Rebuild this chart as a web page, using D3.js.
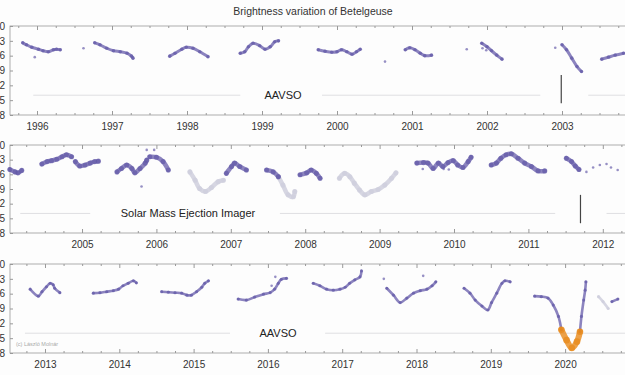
<!DOCTYPE html>
<html>
<head>
<meta charset="utf-8">
<script src="https://cdn.jsdelivr.net/npm/d3@7"></script>
<style>
  body { margin: 0; background: #fdfdfd; }
  svg { display: block; font-family: "Liberation Sans", Arial, sans-serif; }
</style>
</head>
<body>
<svg id="chart" width="625" height="375"></svg>
<script>
// ---- data: [year, magnitude] ----
const magTicks = [0.0, 0.3, 0.6, 0.9, 1.2, 1.5, 1.8];
const years1 = [1996, 1997, 1998, 1999, 2000, 2001, 2002, 2003];
const years2 = [2005, 2006, 2007, 2008, 2009, 2010, 2011, 2012];
const years3 = [2013, 2014, 2015, 2016, 2017, 2018, 2019, 2020];

// AAVSO 1995-2003
const aavso1 = [
  [[1995.81, 0.34], [1995.86, 0.38], [1995.93, 0.43], [1996.02, 0.47], [1996.08, 0.50], [1996.15, 0.52], [1996.22, 0.48], [1996.26, 0.47], [1996.31, 0.48]],
  [[1996.77, 0.34], [1996.84, 0.38], [1996.93, 0.45], [1997.02, 0.50], [1997.11, 0.52], [1997.20, 0.55], [1997.26, 0.61], [1997.28, 0.65]],
  [[1997.77, 0.61], [1997.84, 0.55], [1997.93, 0.47], [1997.99, 0.43], [1998.08, 0.45], [1998.17, 0.52], [1998.28, 0.62]],
  [[1998.71, 0.55], [1998.77, 0.52], [1998.82, 0.42], [1998.88, 0.35], [1998.97, 0.40], [1999.04, 0.47], [1999.11, 0.42], [1999.17, 0.32], [1999.22, 0.30]],
  [[1999.75, 0.48], [1999.84, 0.51], [1999.93, 0.53], [2000.00, 0.52], [2000.06, 0.48], [2000.13, 0.52], [2000.20, 0.57], [2000.26, 0.52], [2000.31, 0.47]],
  [[2000.91, 0.48], [2000.97, 0.44], [2001.04, 0.48], [2001.11, 0.55], [2001.17, 0.60], [2001.26, 0.59]],
  [[2001.93, 0.35], [2002.00, 0.42], [2002.06, 0.50], [2002.13, 0.59], [2002.20, 0.67]],
  [[2003.00, 0.38], [2003.06, 0.48], [2003.13, 0.65], [2003.20, 0.82], [2003.26, 0.92]],
  [[2003.53, 0.67], [2003.62, 0.63], [2003.71, 0.59], [2003.82, 0.55]]
];
const aavso1Dots = [[1995.97, 0.63], [1996.62, 0.45], [2000.64, 0.72], [2001.73, 0.47], [2001.94, 0.45], [2001.99, 0.49], [2002.91, 0.44]];

// SMEI 2004-2012
const smei = [
  [[2004.03, 0.50], [2004.10, 0.55], [2004.14, 0.57], [2004.19, 0.52]],
  [[2004.46, 0.39], [2004.53, 0.34], [2004.59, 0.32], [2004.66, 0.29], [2004.73, 0.24], [2004.79, 0.20], [2004.86, 0.24]],
  [[2004.91, 0.34], [2004.97, 0.43], [2005.04, 0.41], [2005.11, 0.37], [2005.17, 0.34], [2005.22, 0.33]],
  [[2005.47, 0.55], [2005.53, 0.48], [2005.60, 0.41], [2005.67, 0.48], [2005.71, 0.57], [2005.78, 0.48], [2005.85, 0.37], [2005.87, 0.31]],
  [[2005.91, 0.24], [2006.00, 0.25], [2006.09, 0.34], [2006.16, 0.51]],
  [[2006.94, 0.58], [2007.01, 0.44], [2007.05, 0.37], [2007.12, 0.44], [2007.21, 0.51]],
  [[2007.48, 0.51], [2007.57, 0.55], [2007.64, 0.65]],
  [[2007.93, 0.61], [2008.02, 0.57], [2008.08, 0.51], [2008.15, 0.58], [2008.20, 0.68]],
  [[2009.50, 0.37], [2009.59, 0.36], [2009.65, 0.37], [2009.72, 0.48], [2009.79, 0.37], [2009.85, 0.44], [2009.92, 0.36], [2009.99, 0.32], [2010.05, 0.41], [2010.12, 0.46], [2010.19, 0.34], [2010.23, 0.25]],
  [[2010.50, 0.41], [2010.57, 0.37], [2010.63, 0.27], [2010.70, 0.20], [2010.77, 0.18], [2010.86, 0.27], [2010.95, 0.37], [2011.04, 0.44], [2011.13, 0.53], [2011.22, 0.53]],
  [[2011.51, 0.27], [2011.58, 0.34], [2011.63, 0.43], [2011.68, 0.50]]
];
const smeiFaint = [
  [[2006.45, 0.55], [2006.52, 0.72], [2006.58, 0.89], [2006.66, 0.95], [2006.74, 0.87], [2006.83, 0.75], [2006.90, 0.72]],
  [[2007.64, 0.65], [2007.70, 0.82], [2007.77, 1.02], [2007.84, 1.06], [2007.86, 0.95]],
  [[2008.46, 0.68], [2008.53, 0.58], [2008.60, 0.65], [2008.66, 0.78], [2008.73, 0.92], [2008.80, 1.02], [2008.89, 0.95], [2008.98, 0.91], [2009.07, 0.82], [2009.16, 0.68], [2009.22, 0.57]]
];
const smeiDots = [[2005.87, 0.10], [2005.97, 0.10], [2005.80, 0.85], [2009.58, 0.49], [2009.86, 0.49], [2009.93, 0.50],
  [2011.78, 0.55], [2011.87, 0.46], [2011.96, 0.41], [2012.05, 0.39], [2012.11, 0.46], [2012.20, 0.51]];

// AAVSO 2012-2020
const aavso3 = [
  [[2012.80, 0.51], [2012.91, 0.65], [2012.96, 0.56], [2013.02, 0.46], [2013.07, 0.39], [2013.11, 0.42], [2013.13, 0.49], [2013.20, 0.58]],
  [[2013.65, 0.59], [2013.74, 0.58], [2013.83, 0.56], [2013.92, 0.54], [2013.99, 0.51], [2014.05, 0.44], [2014.12, 0.39], [2014.19, 0.34], [2014.23, 0.38]],
  [[2014.57, 0.56], [2014.66, 0.57], [2014.75, 0.58], [2014.84, 0.59], [2014.91, 0.63], [2014.97, 0.63], [2015.04, 0.56], [2015.11, 0.47], [2015.15, 0.39], [2015.20, 0.34]],
  [[2015.60, 0.71], [2015.71, 0.73], [2015.82, 0.67], [2015.94, 0.61], [2016.03, 0.58], [2016.09, 0.51], [2016.14, 0.39], [2016.18, 0.31], [2016.25, 0.29]],
  [[2016.61, 0.39], [2016.70, 0.44], [2016.79, 0.51], [2016.88, 0.53], [2016.97, 0.51], [2017.04, 0.47], [2017.10, 0.39], [2017.17, 0.32], [2017.24, 0.26], [2017.26, 0.14]],
  [[2017.60, 0.49], [2017.69, 0.63], [2017.78, 0.78], [2017.87, 0.69], [2017.96, 0.59], [2018.05, 0.54], [2018.14, 0.51], [2018.21, 0.44], [2018.26, 0.36]],
  [[2018.64, 0.49], [2018.72, 0.59], [2018.79, 0.73], [2018.88, 0.85], [2018.96, 0.93], [2019.01, 0.78], [2019.08, 0.59], [2019.15, 0.39], [2019.19, 0.34], [2019.26, 0.36]],
  [[2019.59, 0.65], [2019.68, 0.66], [2019.77, 0.69], [2019.84, 0.83], [2019.91, 1.06], [2019.95, 1.33]],
  [[2020.20, 1.37], [2020.22, 1.06], [2020.25, 0.73], [2020.27, 0.53], [2020.28, 0.36]],
  [[2020.63, 0.76], [2020.71, 0.71]]
];
const aavso3Faint = [
  [[2020.45, 0.66], [2020.51, 0.76], [2020.58, 0.90]]
];
const dimming2020 = [[2019.95, 1.33], [2020.02, 1.54], [2020.09, 1.70], [2020.16, 1.57], [2020.20, 1.37]];
const aavso3Dots = [[2016.10, 0.26], [2016.05, 0.44], [2018.09, 0.24], [2017.56, 0.30]];

// reference lines (start, end) at the label level, and markers
const refLine1 = [[1995.95, 1998.71], [1999.80, 2002.71], [2003.35, 2004.1]];
const refLine2 = [[2004.17, 2005.11], [2007.66, 2011.36], [2012.05, 2012.6]];
const refLine3 = [[2012.73, 2015.49], [2016.77, 2021.1]];
const refMag = 1.40;
const marker1 = [2002.99, 0.99, 1.56];
const marker2 = [2011.70, 1.02, 1.60];

// ---- drawing ----
const svg = d3.select('#chart');
const left = 10, right = 640;

const purple = '#5f55a6', faint = '#cfcfdd', orange = '#e8891a';

svg.append('text')
  .attr('x', 313).attr('y', 15)
  .attr('text-anchor', 'middle')
  .style('font-size', '10.5px')
  .style('fill', '#333')
  .text('Brightness variation of Betelgeuse');

const panels = [
  {top: 26, bottom: 115, domain: [1995.64, 2004.04], years: years1, segs: aavso1, faint: [], dots: aavso1Dots,
   ref: refLine1, label: 'AAVSO', labelX: 283, marker: marker1, thick: 3},
  {top: 145, bottom: 233, domain: [2004.032, 2012.50], years: years2, segs: smei, faint: smeiFaint, dots: smeiDots,
   ref: refLine2, label: 'Solar Mass Ejection Imager', labelX: 188, marker: marker2, thick: 4.5},
  {top: 264, bottom: 353, domain: [2012.529, 2021.008], years: years3, segs: aavso3, faint: aavso3Faint, dots: aavso3Dots,
   ref: refLine3, label: 'AAVSO', labelX: 278, marker: null, thick: 2.6}
];

panels.forEach((p, i) => {
  const x = d3.scaleLinear().domain(p.domain).range([left, right]);
  const y = d3.scaleLinear().domain([0, 1.8]).range([p.top, p.bottom]);
  const g = svg.append('g');

  //frame
  g.append('rect')
    .attr('x', left).attr('y', p.top)
    .attr('width', right - left).attr('height', p.bottom - p.top)
    .attr('fill', 'none').attr('stroke', '#9a9a9a').attr('stroke-width', 0.8);

  const quarters = [];
  for (let yr = Math.ceil(p.domain[0] * 4) / 4; yr < p.domain[1]; yr += 0.25) {
    if (yr % 1 !== 0) quarters.push(yr);
  }

  //axes
  const bottomG = g.append('g').attr('transform', 'translate(0,' + p.bottom + ')');
  bottomG.call(d3.axisBottom(x).tickValues(quarters).tickSize(-2).tickFormat(''));
  bottomG.append('g').call(d3.axisBottom(x).tickValues(p.years).tickSize(-4).tickPadding(8).tickFormat(d3.format('d')));

  const topG = g.append('g').attr('transform', 'translate(0,' + p.top + ')');
  topG.call(d3.axisTop(x).tickValues(quarters).tickSize(-2).tickFormat(''));
  topG.append('g').call(d3.axisTop(x).tickValues(p.years).tickSize(-4).tickFormat(''));

  g.append('g').attr('transform', 'translate(' + left + ',0)')
    .call(d3.axisLeft(y).tickValues(magTicks).tickSize(-3).tickPadding(5).tickFormat(d3.format('.1f')));

  g.selectAll('.domain').remove();
  g.selectAll('.tick line').attr('stroke', '#999');
  g.selectAll('.tick text').style('font-size', '10px').style('fill', '#333').style('font-family', '"Liberation Sans", Arial, sans-serif');

  //reference line and label
  p.ref.forEach(r => {
    g.append('line')
      .attr('x1', x(r[0])).attr('x2', x(r[1]))
      .attr('y1', y(refMag)).attr('y2', y(refMag))
      .attr('stroke', '#d8d8dc').attr('stroke-width', 0.8);
  });
  g.append('text')
    .attr('x', p.labelX).attr('y', y(refMag) + 4)
    .attr('text-anchor', 'middle')
    .style('font-size', '11px').style('fill', '#222')
    .text(p.label);

  if (p.marker) {
    g.append('line')
      .attr('x1', x(p.marker[0])).attr('x2', x(p.marker[0]))
      .attr('y1', y(p.marker[1])).attr('y2', y(p.marker[2]))
      .attr('stroke', '#444').attr('stroke-width', 1.2);
  }

  const line = d3.line().x(d => x(d[0])).y(d => y(d[1])).curve(d3.curveCatmullRom);

  const drawSegs = (segs, color, w, opacity) => {
    segs.forEach(s => {
      g.append('path').datum(s)
        .attr('fill', 'none').attr('stroke', color)
        .attr('stroke-width', w).attr('stroke-linecap', 'round').attr('stroke-linejoin', 'round')
        .attr('opacity', opacity)
        .attr('d', line);
      g.selectAll(null).data(s).enter().append('circle')
        .attr('cx', d => x(d[0])).attr('cy', d => y(d[1]))
        .attr('r', w / 2 + 0.3)
        .attr('fill', color).attr('opacity', opacity * 0.9);
    });
  };

  drawSegs(p.faint, faint, p.thick, 0.85);
  drawSegs(p.segs, purple, p.thick, 0.72);
  if (i === 2) drawSegs([dimming2020], orange, 6, 0.8);

  g.selectAll(null).data(p.dots).enter().append('circle')
    .attr('cx', d => x(d[0])).attr('cy', d => y(d[1]))
    .attr('r', 1.3)
    .attr('fill', purple).attr('opacity', 0.65);

  if (i === 2) {
    g.append('text')
      .attr('x', 16).attr('y', 346)
      .style('font-size', '5.5px').style('fill', '#aaa')
      .text('(c) László Molnár');
  }
});
</script>
</body>
</html>
